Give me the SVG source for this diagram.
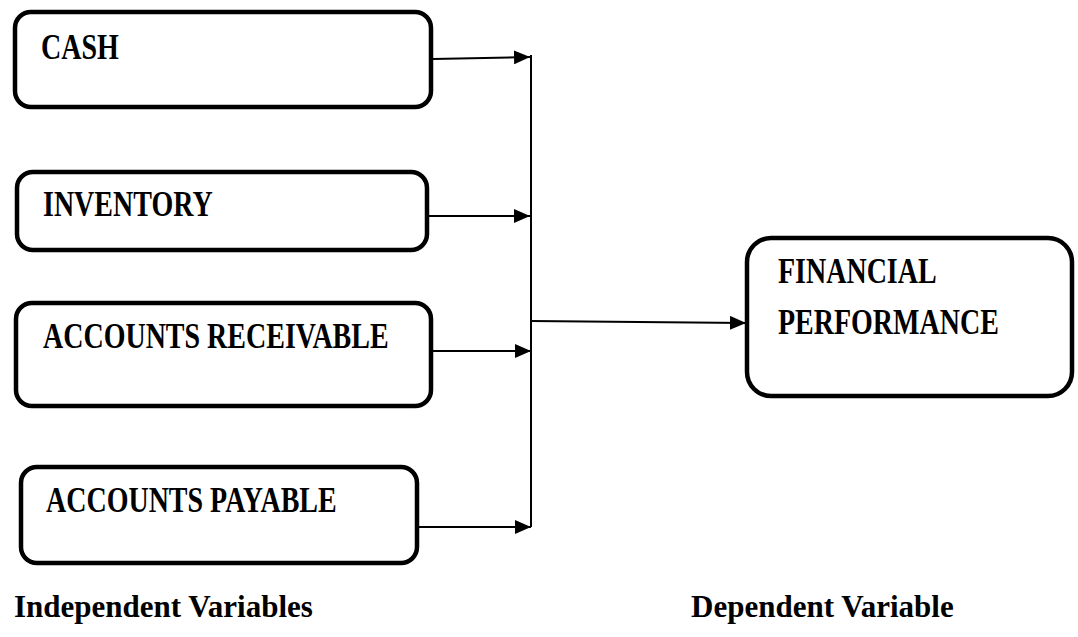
<svg xmlns="http://www.w3.org/2000/svg" width="1078" height="637" viewBox="0 0 1078 637">
<style>
.box{fill:#fff;stroke:#000;stroke-width:4.5}
.lbl{font-family:"Liberation Serif",serif;font-weight:bold;font-size:28px;fill:#000}
.cap{font-family:"Liberation Serif",serif;font-weight:bold;font-size:31px;fill:#000}
.ln{stroke:#000;stroke-width:2;fill:none}
</style>
<defs>
<marker id="ah" markerWidth="8" markerHeight="7" refX="8" refY="3.5" orient="auto" markerUnits="strokeWidth">
<path d="M0,0 L8,3.5 L0,7 Z" fill="#000"/>
</marker>
</defs>
<rect width="1078" height="637" fill="#fff"/>
<g id="cash">
<rect class="box" x="15" y="12" width="416" height="95" rx="16"/>
<text class="lbl" transform="translate(41,59) scale(1,1.3)">CASH</text>
</g>
<g id="inventory">
<rect class="box" x="17" y="172" width="410" height="78" rx="16"/>
<text class="lbl" transform="translate(43,216) scale(1,1.3)">INVENTORY</text>
</g>
<g id="receivable">
<rect class="box" x="16" y="303" width="415" height="103" rx="16"/>
<text class="lbl" transform="translate(43,348) scale(1,1.3)">ACCOUNTS RECEIVABLE</text>
</g>
<g id="payable">
<rect class="box" x="21" y="467" width="396" height="96" rx="16"/>
<text class="lbl" transform="translate(46,512) scale(1,1.3)">ACCOUNTS PAYABLE</text>
</g>
<g id="performance">
<rect class="box" x="747" y="238" width="325" height="158" rx="24"/>
<text class="lbl" transform="translate(778,283) scale(1,1.3)">FINANCIAL</text>
<text class="lbl" transform="translate(778,334) scale(1,1.3)">PERFORMANCE</text>
</g>
<g id="connectors">
<line class="ln" x1="531" y1="55" x2="531" y2="527"/>
<line class="ln" x1="433" y1="59" x2="530" y2="57" marker-end="url(#ah)"/>
<line class="ln" x1="429" y1="216" x2="530" y2="216" marker-end="url(#ah)"/>
<line class="ln" x1="433" y1="351" x2="531" y2="351" marker-end="url(#ah)"/>
<line class="ln" x1="419" y1="527" x2="531" y2="527" marker-end="url(#ah)"/>
<line class="ln" x1="531" y1="321" x2="746" y2="323" marker-end="url(#ah)"/>
</g>
<g id="captions">
<text class="cap" x="14" y="617">Independent Variables</text>
<text class="cap" x="691" y="617">Dependent Variable</text>
</g>
</svg>
